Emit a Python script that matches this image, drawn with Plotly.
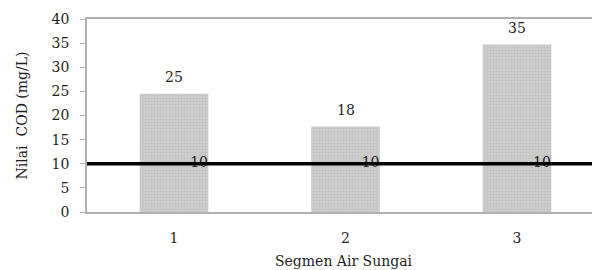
import plotly.graph_objects as go

segments = [1, 2, 3]
segment_labels = ["1", "2", "3"]
cod_values = [24.5, 17.7, 34.7]
cod_labels = ["25", "18", "35"]
threshold = 10
threshold_label = "10"
y_ticks = [0, 5, 10, 15, 20, 25, 30, 35, 40]

FONT = "DejaVu Serif, serif"
FS = 14
TXT = "#1e1e1e"

fig = go.Figure()
fig.add_trace(go.Bar(
    x=segments, y=cod_values, width=0.4,
    marker=dict(color="#cbcbcb", line=dict(width=0),
                pattern=dict(shape=".", fgcolor="#b5b5b5", bgcolor="#cdcdcd", size=3, solidity=0.4)),
    showlegend=False, hoverinfo="skip"))

# threshold line across plot
fig.add_shape(type="line", xref="x domain", yref="y", x0=0, x1=1, y0=threshold, y1=threshold,
              line=dict(color="black", width=3.5))

# threshold labels
fig.add_trace(go.Scatter(
    x=[s + 0.146 for s in segments], y=[threshold] * len(segments),
    mode="text", text=[threshold_label] * len(segments),
    textfont=dict(family=FONT, size=FS, color=TXT), textposition="middle center",
    showlegend=False, hoverinfo="skip"))

for s, v, t in zip(segments, cod_values, cod_labels):
    fig.add_annotation(x=s, y=v, text=t, showarrow=False, yshift=17, yanchor="middle",
                       font=dict(family=FONT, size=FS, color=TXT))

fig.update_layout(
    width=600, height=270,
    margin=dict(l=79, r=8, t=11, b=66),
    plot_bgcolor="white", paper_bgcolor="white",
    font=dict(family=FONT, size=FS, color=TXT),
)
fig.update_xaxes(
    range=[0.4927, 3.484], tickvals=segments, ticktext=segment_labels,
    showline=True, linecolor="#b0b0b0", linewidth=1.5, mirror=True,
    ticks="outside", ticklen=12, tickcolor="rgba(0,0,0,0)",
    showgrid=False, zeroline=False, automargin=False,
    title=dict(text="Segmen Air Sungai", standoff=12, font=dict(family=FONT, size=FS)),
)
fig.update_yaxes(
    range=[0, 40], tickvals=y_ticks,
    showline=True, linecolor="#b0b0b0", linewidth=1.5,
    ticks="outside", ticklen=5, tickcolor="#b0b0b0", ticklabelstandoff=8,
    showgrid=False, zeroline=False, automargin=False,
    title=dict(text="Nilai  COD (mg/L)", standoff=21, font=dict(family=FONT, size=FS)),
)

fig.write_html("out.html")
